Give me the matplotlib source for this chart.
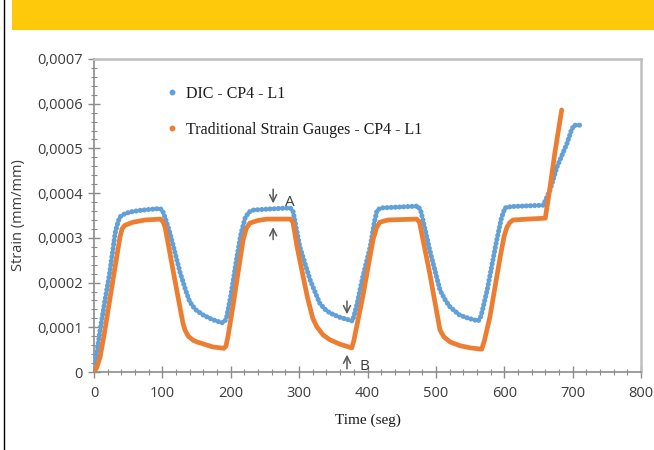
import matplotlib
matplotlib.use("Agg")
import matplotlib.pyplot as plt
from matplotlib.lines import Line2D
from matplotlib.ticker import MultipleLocator, FuncFormatter
from matplotlib.patches import Rectangle

# ---- data ----
dic_time = [0, 3, 9, 16, 23, 31, 35, 38, 44, 53, 70, 92, 97, 100, 104, 111, 126, 134,
            140, 148, 159, 172, 187, 191, 194, 200, 209, 215, 221, 226, 232,
            250, 287, 291, 296, 301, 316, 330, 338, 345, 360, 374, 378, 381, 385, 393,
            404, 410, 414, 420, 474, 478, 484, 491, 506, 514, 521, 535, 548, 562, 566,
            575, 589, 596, 601, 610, 657, 667, 677, 692, 698, 702, 711]
dic_strain = [0, 0.000030, 0.000094, 0.000160, 0.000222, 0.000311, 0.000335, 0.000347,
              0.000353, 0.000358, 0.000362, 0.000365, 0.000365, 0.000362, 0.000345,
              0.000311, 0.000222, 0.000183, 0.000157, 0.000140, 0.000128, 0.000118,
              0.000110, 0.000112, 0.000123, 0.000170, 0.000257, 0.000310, 0.000344,
              0.000357, 0.000362,
              0.000364, 0.000367, 0.000360, 0.000320, 0.000280, 0.000206, 0.000154,
              0.000140, 0.000132, 0.000122, 0.000116, 0.000114, 0.000130, 0.000154,
              0.000212, 0.000280, 0.000335, 0.000362, 0.000367, 0.000371, 0.000360,
              0.000320, 0.000273, 0.000183, 0.000160, 0.000145, 0.000127, 0.000120,
              0.000114, 0.000125, 0.000183, 0.000295, 0.000345, 0.000367, 0.000370,
              0.000373, 0.000407, 0.000458, 0.000512, 0.000540, 0.000552, 0.000552]

sg_time = [0, 4, 9, 15, 23, 38, 41, 45, 57, 75, 97, 101, 104, 121, 130, 133, 138, 145,
           151, 174, 190, 193, 196, 203, 218, 223, 228, 240, 253,
           287, 291, 297, 312, 320, 326, 335, 345, 360, 377, 380, 393, 408, 413, 418,
           430, 472, 476, 491, 506, 512, 521, 535, 550, 567, 571, 579, 594, 600, 604,
           608, 613, 635, 660, 667, 674, 684]
sg_strain = [0, 0.000010, 0.000034, 0.000085, 0.000161, 0.000302, 0.000320, 0.000328,
             0.000335, 0.000340, 0.000342, 0.000336, 0.000324, 0.000183, 0.000110,
             0.000094, 0.000080, 0.000071, 0.000067, 0.000056, 0.000053, 0.000058,
             0.000080, 0.000145, 0.000295, 0.000322, 0.000333, 0.000339, 0.000342,
             0.000342, 0.000335, 0.000280, 0.000168, 0.000120, 0.000101, 0.000083,
             0.000072, 0.000062, 0.000054, 0.000070, 0.000168, 0.000295, 0.000322,
             0.000335, 0.000340, 0.000342, 0.000335, 0.000221, 0.000094, 0.000078,
             0.000067, 0.000059, 0.000054, 0.000051, 0.000070, 0.000123, 0.000257,
             0.000305, 0.000324, 0.000334, 0.000340, 0.000342, 0.000344, 0.000414,
             0.000490, 0.000586]

series_labels = ["DIC - CP4 - L1", "Traditional Strain Gauges - CP4 - L1"]
x_label = "Time (seg)"
y_label = "Strain (mm/mm)"

BLUE = "#62a0d8"
ORANGE = "#ed7d31"
SERIF = ["Liberation Serif", "DejaVu Serif"]
SANS = ["Open Sans", "DejaVu Sans"]
TXT = "#3c3c3c"

fig = plt.figure(figsize=(6.54, 4.5), dpi=100)
fig.patch.set_facecolor("white")

# yellow banner and left border line
fig.add_artist(Rectangle((12 / 654, 1 - 30 / 450), 1 - 12 / 654, 30 / 450,
                         transform=fig.transFigure, facecolor="#ffc90b", edgecolor="none"))
fig.add_artist(Line2D([3.5 / 654, 3.5 / 654], [0, 1], transform=fig.transFigure,
                      color="black", lw=1.0))

ax = fig.add_axes([94 / 654, 1 - 372 / 450, (641 - 94) / 654, (372 - 59) / 450])

ax.plot(dic_time, dic_strain, color=BLUE, lw=3.7, linestyle=(0, (0.01, 0.8)),
        dash_capstyle="round", solid_capstyle="round", zorder=3)
ax.plot(sg_time, sg_strain, color=ORANGE, lw=3.4, solid_joinstyle="round",
        solid_capstyle="round", zorder=4)

ax.set_xlim(0, 800)
ax.set_ylim(0, 0.0007)
ax.xaxis.set_major_locator(MultipleLocator(100))
ax.xaxis.set_minor_locator(MultipleLocator(20))
ax.yaxis.set_major_locator(MultipleLocator(0.0001))
ax.yaxis.set_minor_locator(MultipleLocator(0.00002))


def yfmt(v, pos):
    if abs(v) < 1e-12:
        return "0"
    return ("%.4f" % v).replace(".", ",")


ax.yaxis.set_major_formatter(FuncFormatter(yfmt))
ax.xaxis.set_major_formatter(FuncFormatter(lambda v, p: "%d" % round(v)))

for side in ["left", "bottom"]:
    ax.spines[side].set_color("#8c8c8c")
    ax.spines[side].set_linewidth(1.2)
for side in ["top", "right"]:
    ax.spines[side].set_color("#bfbfbf")
    ax.spines[side].set_linewidth(1.8)

ax.tick_params(which="major", direction="inout", length=8, width=1.0, color="#8c8c8c",
               labelsize=10.5, labelcolor=TXT)
ax.tick_params(which="minor", direction="inout", length=5, width=0.8, color="#8c8c8c")
ax.tick_params(axis="y", which="major", pad=4)
ax.tick_params(axis="x", which="major", pad=6)
for lab in ax.get_xticklabels() + ax.get_yticklabels():
    lab.set_family(SANS)

ax.set_xlabel(x_label, family=SERIF, fontsize=11, color="#1a1a1a", labelpad=9)
ax.set_ylabel(y_label, family=SANS, fontsize=10.5, color=TXT, labelpad=8)

handles = [Line2D([], [], color=BLUE, marker="o", markersize=3.2, linestyle="none"),
           Line2D([], [], color=ORANGE, marker="o", markersize=3.2, linestyle="none")]
leg = ax.legend(handles, series_labels, loc="upper left", bbox_to_anchor=(0.134, 0.915),
                frameon=False, borderpad=0, borderaxespad=0, handlelength=0.6,
                handletextpad=0.6, labelspacing=1.25,
                prop={"family": SERIF, "size": 11.5})
for t in leg.get_texts():
    t.set_color("#1a1a1a")

# arrows and point labels
arrow = dict(arrowstyle="->,head_length=0.5,head_width=0.25", color="#595959", lw=1.1)
ax.annotate("", xy=(262, 0.000371), xytext=(262, 0.000415), arrowprops=arrow)
ax.annotate("", xy=(262, 0.000330), xytext=(262, 0.000290), arrowprops=arrow)
ax.annotate("", xy=(370, 0.000123), xytext=(370, 0.000165), arrowprops=arrow)
ax.annotate("", xy=(370, 0.000045), xytext=(370, 0.000001), arrowprops=arrow,
            annotation_clip=False)
ax.text(279, 0.000380, "A", family=SANS, fontsize=11, color=TXT, va="center")
ax.text(388, 0.0000112, "B", family=SANS, fontsize=11, color=TXT, va="center")

fig.savefig("out.png", dpi=100)
